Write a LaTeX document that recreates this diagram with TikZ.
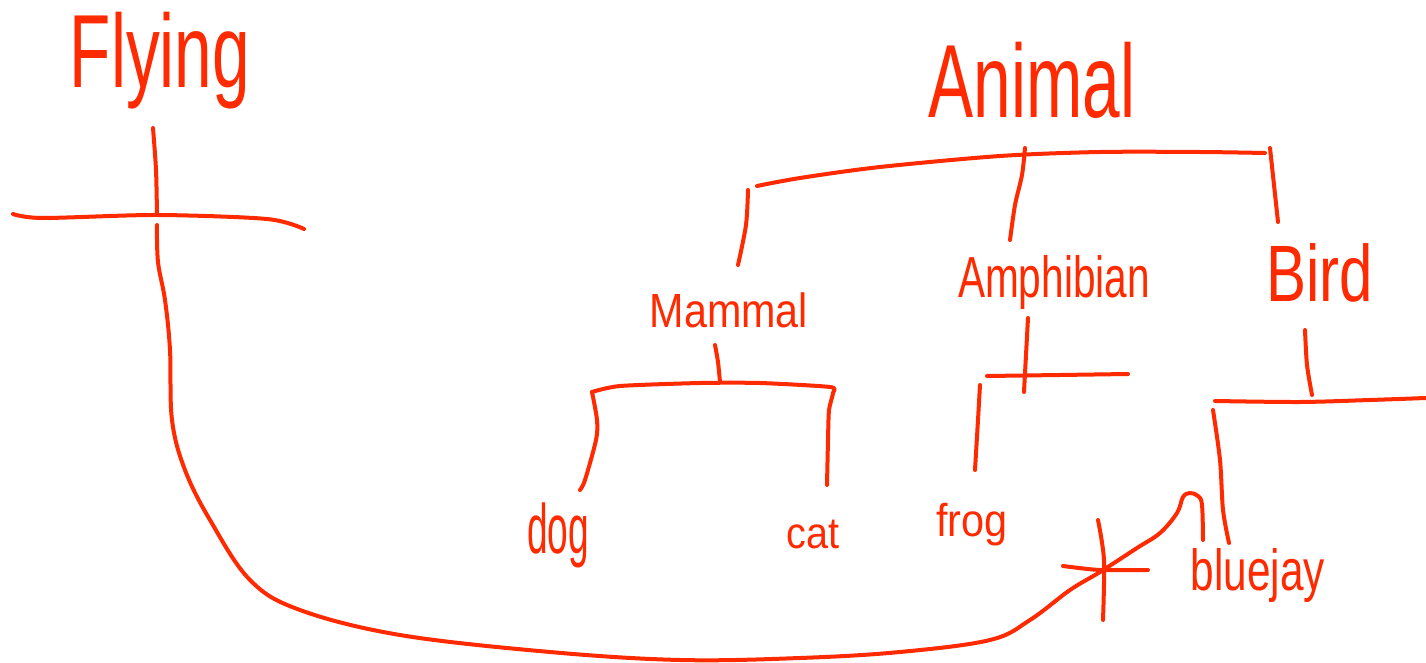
\documentclass[tikz,border=0pt]{standalone}
\usepackage{fontspec}
\setmainfont{Liberation Sans}
\definecolor{ink}{HTML}{FF2A00}

\begin{document}
\begin{tikzpicture}[x=0.5pt,y=-0.5pt,line width=2pt,line cap=round,line join=round]
\tikzstyle{word}=[text=ink,inner sep=0pt,anchor=base]
\tikzstyle{pen}=[draw=ink]
\useasboundingbox (0,0) rectangle (1426,663);

% labels
\node[word,font=\fontsize{52}{52}\selectfont,xscale=0.65] (flying) at (160,88) {Flying};
\node[word,font=\fontsize{52}{52}\selectfont,xscale=0.65] (animal) at (1032,118) {Animal};
\node[word,font=\fontsize{24}{24}\selectfont,xscale=0.86] (mammal) at (729,328) {Mammal};
\node[word,font=\fontsize{29}{29}\selectfont,xscale=0.7] (amphibian) at (1054,298) {Amphibian};
\node[word,font=\fontsize{40}{40}\selectfont,xscale=0.75] (bird) at (1320,302) {Bird};
\node[word,font=\fontsize{35}{35}\selectfont,xscale=0.53] (dog) at (558,553) {dog};
\node[word,font=\fontsize{22}{22}\selectfont,xscale=0.9] (cat) at (813,548) {cat};
\node[word,font=\fontsize{23}{23}\selectfont,xscale=0.9] (frog) at (972,537) {frog};
\node[word,font=\fontsize{29}{29}\selectfont,xscale=0.73] (bluejay) at (1258,590) {bluejay};

% end points of the strokes
\coordinate (flyTop) at (153,128);
\coordinate (flyJoin) at (157,215);
\coordinate (flyL) at (13,214);
\coordinate (flyR) at (304,229);
\coordinate (animalTop) at (1025,148);
\coordinate (animalEnd) at (1010,240);
\coordinate (animalL) at (757,186);
\coordinate (animalR) at (1265,153);
\coordinate (mammalTop) at (715,345);
\coordinate (mammalJoin) at (720,382);
\coordinate (amphTop) at (1028,318);
\coordinate (amphJoin) at (1024,392);
\coordinate (birdTop) at (1305,330);
\coordinate (birdJoin) at (1312,395);
\coordinate (hook) at (1203,540);

% Flying
\draw[pen] plot[smooth] coordinates {(flyTop) (156,170) (flyJoin)};
\draw[pen] plot[smooth] coordinates {(flyL) (43,218) (flyJoin) (267,219) (flyR)};
\draw[pen] plot[smooth,tension=0.6] coordinates {(157,225) (158,262) (165,300) (170,350) (172,420)
  (185,470) (210,520) (250,580) (300,610) (400,635) (550,652) (680,660) (800,658) (900,652)
  (990,640) (1030,620) (1070,590) (1100,572) (1137,548) (1160,533) (1177,513) (1183,497)
  (1190,493) (1198,496) (1202,505) (hook)};
\draw[pen] plot[smooth] coordinates {(1098,520) (1104,560) (1103,620)};
\draw[pen] plot[smooth] coordinates {(1063,566) (1100,570) (1148,570)};

% Animal
\draw[pen] plot[smooth] coordinates {(animalTop) (1022,175) (1015,205) (animalEnd)};
\draw[pen] plot[smooth] coordinates {(animalL) (800,178) (880,167) (1000,156) (1100,152) (1200,152) (animalR)};
\draw[pen] plot[smooth] coordinates {(748,190) (746,225) (738,265)};
\draw[pen] plot[smooth] coordinates {(1270,148) (1274,185) (1278,222)};

% Mammal
\draw[pen] plot[smooth] coordinates {(mammalTop) (718,362) (mammalJoin)};
\draw[pen] plot[smooth,tension=0.4] coordinates {(592,392) (620,386) (700,383) (760,383) (830,387)
  (833,393) (829,410) (828,440) (827,485)};
\draw[pen] plot[smooth] coordinates {(592,392) (597,420) (596,440) (585,480) (580,490)};

% Amphibian
\draw[pen] plot[smooth] coordinates {(amphTop) (1026,355) (amphJoin)};
\draw[pen] plot[smooth] coordinates {(987,376) (1060,375) (1128,374)};
\draw[pen] plot[smooth] coordinates {(980,385) (978,420) (975,470)};

% Bird
\draw[pen] plot[smooth] coordinates {(birdTop) (1307,365) (birdJoin)};
\draw[pen] plot[smooth] coordinates {(1215,401) (1300,402) (1370,400) (1426,398)};
\draw[pen] plot[smooth] coordinates {(1213,410) (1220,460) (1223,510) (1229,543)};

\end{tikzpicture}
\end{document}
